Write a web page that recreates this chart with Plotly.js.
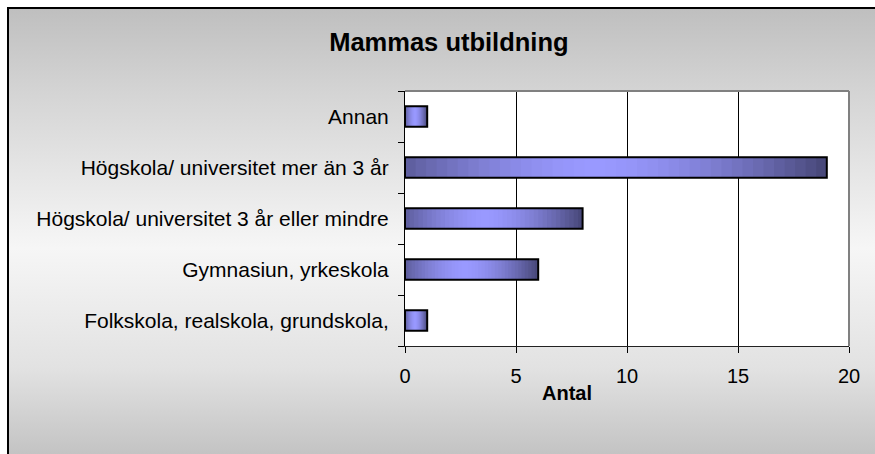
<!DOCTYPE html>
<html>
<head>
<meta charset="utf-8">
<script src="https://cdn.plot.ly/plotly-3.0.1.min.js"></script>
<style>
html,body{margin:0;padding:0;width:875px;height:454px;overflow:hidden;background:#ffffff;}
#frame{position:absolute;left:7px;top:7px;width:880px;height:460px;border-left:2px solid #000;border-top:2px solid #000;
background:linear-gradient(to bottom,#bfbfbf 0%,#d4d4d4 18%,#f6f6f6 52%,#e2e2e2 78%,#bebebe 100%);}
#chart{position:absolute;left:0;top:0;width:875px;height:454px;}
</style>
</head>
<body>
<div id="frame"></div>
<div id="chart"></div>
<script>
const categories = [
  "Folkskola, realskola, grundskola,",
  "Gymnasiun, yrkeskola",
  "Högskola/ universitet 3 år eller mindre",
  "Högskola/ universitet mer än 3 år",
  "Annan"
];
const values = [1, 6, 8, 19, 1];
const xTicks = [0, 5, 10, 15, 20];
const xTitle = "Antal";
const chartTitle = "Mammas utbildning";

const N = 40;
const dark = [70, 70, 118], light = [153, 153, 255];
function col(t){
  const f = Math.max(0, 1 - Math.pow(Math.abs(2*t - 0.9)/1.1, 1.6));
  const c = dark.map((d,i)=>Math.round(d + (light[i]-d)*f));
  return 'rgb(' + c.join(',') + ')';
}
const traces = [];
for (let i = 0; i < N; i++) {
  traces.push({
    type:'bar', orientation:'h', y:categories,
    x: values.map(v => Math.min(2.5*v/N, v - v*i/N)), base: values.map(v => v*i/N),
    marker:{color: col((i+0.5)/N), line:{width:0}},
    width:0.4, hoverinfo:'skip', showlegend:false
  });
}
traces.push({
  type:'bar', orientation:'h', y:categories, x:values,
  marker:{color:'rgba(0,0,0,0)', line:{color:'#000', width:2}},
  width:0.4, hoverinfo:'skip', showlegend:false
});

const layout = {
  width:875, height:454,
  margin:{l:405, r:26, t:91, b:108},
  paper_bgcolor:'rgba(0,0,0,0)', plot_bgcolor:'#ffffff',
  barmode:'overlay',
  font:{family:'"Liberation Sans", Arial, sans-serif', size:21, color:'#000'},
  title:{text:'<b>' + chartTitle + '</b>', x:0.513, xanchor:'center', xref:'container',
         y:1-42/454, yanchor:'middle', yref:'container',
         font:{size:25.5, family:'"Liberation Sans", Arial, sans-serif', color:'#000'}},
  xaxis:{range:[0,20], tickvals:xTicks, ticktext:xTicks.map(String),
         showgrid:true, gridcolor:'#000', gridwidth:1, zeroline:false,
         showline:true, linecolor:'#222', linewidth:1,
         ticks:'outside', ticklen:6, tickcolor:'#000', ticklabelstandoff:6,
         tickfont:{size:20}},
  yaxis:{type:'category', categoryorder:'array', categoryarray:categories,
         showgrid:false, zeroline:false, showline:true, linecolor:'#000', linewidth:1,
         ticks:'outside', ticklen:6, tickcolor:'#000', tickson:'boundaries',
         ticklabelstandoff:11, range:[-0.5,4.5]},
  annotations:[
    {text:'<b>' + xTitle + '</b>', xref:'paper', yref:'paper', x:0.365, y:-0.184,
     xanchor:'center', yanchor:'middle', showarrow:false, font:{size:20, color:'#000'}}
  ],
  shapes:[
    {type:'line', xref:'x domain', yref:'y domain', x0:0, x1:1, y0:1, y1:1, line:{color:'#808080', width:2}},
    {type:'line', xref:'x domain', yref:'y domain', x0:1, x1:1, y0:0, y1:1, line:{color:'#808080', width:2}}
  ]
};
Plotly.newPlot('chart', traces, layout, {displayModeBar:false, staticPlot:true});
</script>
</body>
</html>
